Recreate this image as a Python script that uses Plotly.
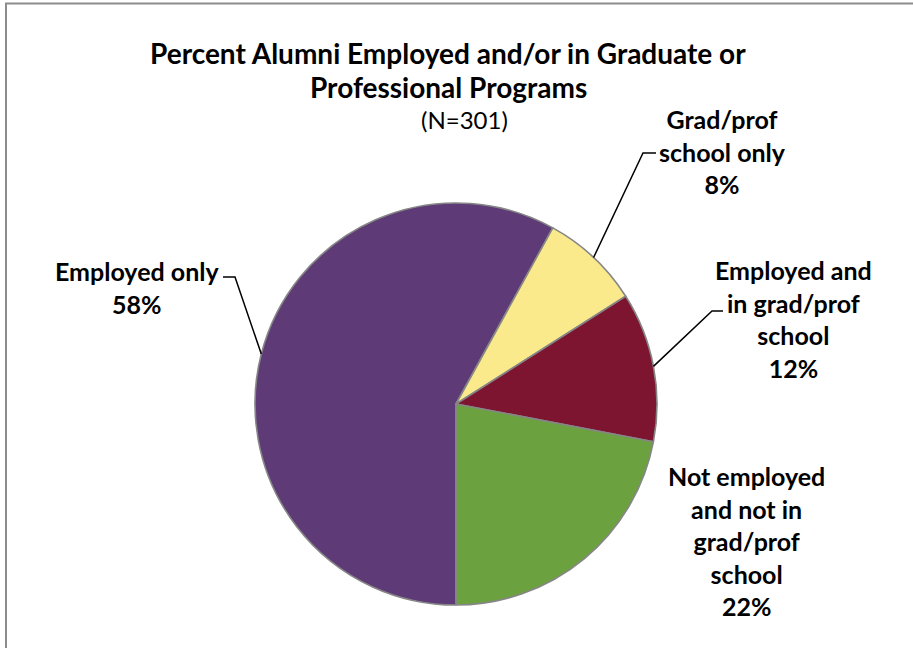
import math
import plotly.graph_objects as go

# ---- data ----
labels = ["Employed only", "Grad/prof school only", "Employed and in grad/prof school",
          "Not employed and not in grad/prof school"]
values = [58, 8, 12, 22]
label_text = ["Employed only<br>58%", "Grad/prof<br>school only<br>8%",
              "Employed and<br>in grad/prof<br>school<br>12%",
              "Not employed<br>and not in<br>grad/prof<br>school<br>22%"]
colors = ["#5E3A76", "#FBEA8C", "#7E1530", "#6CA140"]
title_lines = ["Percent Alumni Employed and/or in Graduate or", "Professional Programs"]
subtitle = "(N=301)"

W, H = 913, 648
CX, CY, R = 456, 404, 201
ROT = 180

def px(x):
    return x / W

def py(y):
    return 1 - y / H

FONT = "Lato, 'Open Sans', sans-serif"

fig = go.Figure(go.Pie(
    labels=labels, values=values, sort=False, direction="clockwise", rotation=ROT,
    marker=dict(colors=colors, line=dict(color="#868686", width=1.6)),
    textinfo="none", showlegend=False,
    domain=dict(x=[px(CX - R), px(CX + R)], y=[py(CY + R), py(CY - R)]),
))

# anchor points on slice edges computed from the data
total = sum(values)
anchors = []
cum = 0
for v in values:
    mid = ROT + (cum + v / 2) / total * 360
    a = math.radians(mid)
    anchors.append((CX + R * math.sin(a), CY - R * math.cos(a)))
    cum += v

# label placement (pixel centres) and leader elbows
label_pos = [(137, 287), (722, 152), (793, 319), (746, 541)]
elbows = [[(223, 277), (235, 277)], [(656, 153), (643, 153)], [(723, 311), (712, 311)], None]

annotations = []
for t, (x, y) in zip(label_text, label_pos):
    bold = "<b>" + t.replace("<br>", "</b><br><b>") + "</b>"
    annotations.append(dict(text=bold, x=px(x), y=py(y), xref="paper", yref="paper",
                            showarrow=False, xanchor="center", yanchor="middle",
                            font=dict(family=FONT, size=25, color="#000000")))

shapes = []
for el, anc in zip(elbows, anchors):
    if el is None:
        continue
    pts = el + [anc]
    path = "M " + " L ".join(f"{px(a)},{py(b)}" for a, b in pts)
    shapes.append(dict(type="path", path=path, xref="paper", yref="paper",
                       line=dict(color="#000000", width=1.5)))

# title
for i, line in enumerate(title_lines):
    annotations.append(dict(text="<b>" + line + "</b>", x=px(448), y=py(53 + 34 * i),
                            xref="paper", yref="paper", showarrow=False,
                            xanchor="center", yanchor="middle",
                            font=dict(family=FONT, size=28, color="#000000")))
annotations.append(dict(text=subtitle, x=px(464), y=py(120), xref="paper", yref="paper",
                        showarrow=False, xanchor="center", yanchor="middle",
                        font=dict(family=FONT, size=24, color="#000000")))

# chart border
shapes.append(dict(type="rect", xref="paper", yref="paper", x0=px(6), x1=px(930),
                   y0=py(680), y1=py(3.5), line=dict(color="#8C8C8C", width=2)))

fig.update_layout(
    width=W, height=H, margin=dict(l=0, r=0, t=0, b=0),
    paper_bgcolor="white", plot_bgcolor="white",
    font=dict(family=FONT),
    annotations=annotations, shapes=shapes,
)

fig.write_html("out.html", config={"displayModeBar": False},
               post_script="document.body.style.margin='0';document.body.style.overflow='hidden';")
